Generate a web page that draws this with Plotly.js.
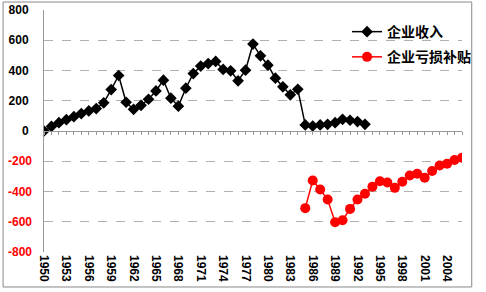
<!DOCTYPE html>
<html>
<head>
<meta charset="utf-8">
<script src="https://cdn.plot.ly/plotly-3.0.1.min.js"></script>
<style>body{margin:0;background:#fff;}#chart{width:486px;height:292px;}</style>
</head>
<body>
<div id="chart"></div>
<script>
// Years
const incomeYears = [];
for (let y = 1950; y <= 1993; y++) incomeYears.push(y);
const subsidyYears = [];
for (let y = 1985; y <= 2006; y++) subsidyYears.push(y);

// 企业收入 (1950-1993)
const incomeValues = [0, 30, 55, 75, 95, 115, 133, 148, 186, 274, 367, 190, 143, 170, 210, 265,
  336, 217, 164, 283, 380, 429, 446, 460, 407, 398, 332, 402, 575, 497, 435, 349, 292, 239, 276,
  40, 33, 40, 44, 55, 77, 71, 62, 44];
// 企业亏损补贴 (1985-2006)
const subsidyValues = [-510, -327, -387, -453, -603, -590, -515, -453, -415, -369, -332, -340,
  -376, -336, -294, -283, -309, -265, -228, -217, -192, -177];

const xTickVals = [];
for (let y = 1950; y <= 2004; y += 3) xTickVals.push(y);
const xTickText = xTickVals.map(String);
const posTicks = [0, 200, 400, 600, 800];
const negTicks = [-200, -400, -600, -800];

const seriesNames = ['企业收入', '企业亏损补贴'];

const traces = [
  {
    x: incomeYears, y: incomeValues, name: seriesNames[0], type: 'scatter', mode: 'lines+markers',
    line: {color: '#000000', width: 1.5},
    marker: {symbol: 'diamond', size: 9, color: '#000000'},
    legendgroup: 'a', xaxis: 'x', yaxis: 'y'
  },
  {
    x: subsidyYears, y: subsidyValues, name: seriesNames[1], type: 'scatter', mode: 'lines+markers',
    line: {color: '#ff0000', width: 1.5},
    marker: {symbol: 'circle', size: 10, color: '#ff0000'},
    legendgroup: 'b', xaxis: 'x2', yaxis: 'y2'
  }
];

const tickFont = {family: 'Liberation Sans, Arial, sans-serif', size: 12, weight: 'bold'};
const xr = [1950, 2006];
const yr = [-800, 800];

const layout = {
  width: 486, height: 292,
  margin: {l: 44, r: 13, t: 10, b: 40},
  paper_bgcolor: '#ffffff', plot_bgcolor: '#ffffff',
  showlegend: true,
  legend: {
    x: 0.725, y: 0.975, xanchor: 'left', yanchor: 'top',
    bgcolor: 'rgba(0,0,0,0)', borderwidth: 0,
    font: {family: 'Noto Sans CJK SC, sans-serif', size: 14, color: '#000', weight: 'bold'},
    itemwidth: 30, tracegroupgap: 4, traceorder: 'grouped'
  },
  xaxis: {
    range: xr, tickmode: 'array', tickvals: xTickVals, ticktext: xTickText,
    tickangle: 90, tickfont: Object.assign({color: '#000'}, tickFont),
    showline: false, ticks: '', showgrid: false, zeroline: false,
    anchor: 'y', ticklabelstandoff: 2
  },
  xaxis2: {
    range: xr, overlaying: 'x', anchor: 'free', position: 0.5, side: 'bottom',
    showline: true, linecolor: '#999', linewidth: 1,
    ticks: 'outside', ticklen: 3, tickcolor: '#999', tickmode: 'linear', tick0: 1950, dtick: 1,
    showticklabels: false, showgrid: false, zeroline: false
  },
  yaxis: {
    range: yr, tickmode: 'array', tickvals: posTicks, ticktext: posTicks.map(String),
    tickfont: Object.assign({color: '#000'}, tickFont),
    showline: true, linecolor: '#999', linewidth: 1, ticks: '',
    showgrid: true, gridcolor: '#b0b0b0', griddash: 'dash', gridwidth: 1,
    zeroline: false, anchor: 'x', ticklabelstandoff: 12
  },
  yaxis2: {
    range: yr, overlaying: 'y', anchor: 'free', position: 0, side: 'left',
    tickmode: 'array', tickvals: negTicks, ticktext: negTicks.map(String),
    tickfont: Object.assign({color: '#ff0000'}, tickFont),
    showline: false, ticks: '',
    showgrid: true, gridcolor: '#b0b0b0', griddash: 'dash', gridwidth: 1,
    zeroline: false, ticklabelstandoff: 12
  },
  shapes: [{
    type: 'rect', xref: 'paper', yref: 'paper',
    x0: -0.0979, x1: 1.0233, y0: -0.1446, y1: 1.033,
    line: {color: '#888888', width: 1}, fillcolor: 'rgba(0,0,0,0)', layer: 'below'
  }]
};

Plotly.newPlot('chart', traces, layout, {staticPlot: true, displayModeBar: false});
</script>
</body>
</html>
